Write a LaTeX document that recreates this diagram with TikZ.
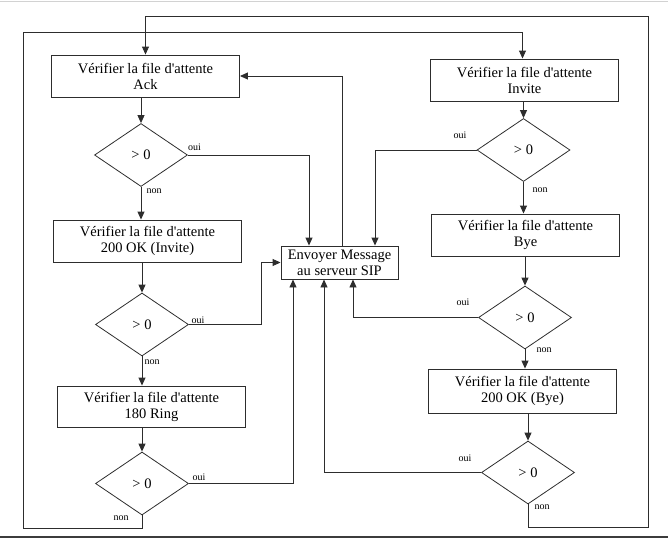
\documentclass[tikz,border=0pt]{standalone}
\usepackage{fontspec}
\setmainfont[Ligatures=TeXOff]{Liberation Serif}
\usetikzlibrary{
  arrows.meta,
  shapes.geometric
}
\definecolor{trait}{RGB}{45,45,45}
\definecolor{cadre}{RGB}{60,60,60}

\begin{document}
\begin{tikzpicture}[x=1pt, y=-1pt,
    every node/.style={font=\fontsize{14.5}{16}\selectfont},
    boite/.style={draw=trait, line width=0.9pt, minimum width=188pt, minimum height=42pt, inner sep=0pt, align=center},
    test/.style={draw=trait, line width=0.8pt, diamond, minimum width=93pt, minimum height=63pt, inner sep=0pt},
    lien/.style={draw=trait, line width=0.9pt, -{Triangle[length=8pt, width=7pt]}},
    rep/.style={font=\fontsize{10}{12}\selectfont, inner sep=0pt}]
            \useasboundingbox (0,0) rectangle (668,547);
            % Page edges
            \draw[gray!35, line width=1pt] (0,1) -- (668,1);
            \draw[cadre, line width=1.3pt] (0,537) -- (668,537);

            % Left column
            \node[boite] (ack) at (145.5,76) {V\'erifier la file d'attente\\Ack};
            \node[test] (dAck) at (141,155) {> 0};
            \node[boite] (invOK) at (147.5,241) {V\'erifier la file d'attente\\200 OK (Invite)};
            \node[test] (dInvOK) at (142,324.5) {> 0};
            \node[boite, minimum height=41pt] (ring) at (151.5,406.5) {V\'erifier la file d'attente\\180 Ring};
            \node[test] (dRing) at (142,483.5) {> 0};

            % Right column
            \node[boite] (invite) at (524.5,80) {V\'erifier la file d'attente\\Invite};
            \node[test] (dInvite) at (523.5,150) {> 0};
            \node[boite] (bye) at (525.5,235) {V\'erifier la file d'attente\\Bye};
            \node[test] (dBye) at (525,317.5) {> 0};
            \node[boite, minimum height=44pt] (byeOK) at (522.5,391) {V\'erifier la file d'attente\\200 OK (Bye)};
            \node[test] (dByeOK) at (528,472.5) {> 0};

            % Server box
            \node[boite, minimum width=117pt, minimum height=33pt] (envoi) at (339.5,262.5) {Envoyer Message\\au serveur SIP};

            % oui / non
            \node[rep] (oAck) at (194.5,147) {oui};
            \node[rep] (nAck) at (154,191) {non};
            \node[rep] (oInvOK) at (198,320) {oui};
            \node[rep] (nInvOK) at (152,362) {non};
            \node[rep] (oRing) at (199,477) {oui};
            \node[rep] (nRing) at (121,518) {non};
            \node[rep] (oInvite) at (460,135) {oui};
            \node[rep] (nInvite) at (540,190) {non};
            \node[rep] (oBye) at (463,302) {oui};
            \node[rep] (nBye) at (544,350) {non};
            \node[rep] (oByeOK) at (465,458) {oui};
            \node[rep] (nByeOK) at (542,507) {non};

            % Loop corners
            \coordinate (basG) at (23,528);
            \coordinate (hautG) at (23,32);
            \coordinate (basD) at (648,527);
            \coordinate (hautD) at (648,16);

            % Column arrows
            \draw[lien] (ack.south -| dAck.north) -- (dAck.north);
            \draw[lien] (dAck.south) -- (dAck.south |- invOK.north);
            \draw[lien] (invOK.south -| dInvOK.north) -- (dInvOK.north);
            \draw[lien] (dInvOK.south) -- (dInvOK.south |- ring.north);
            \draw[lien] (ring.south -| dRing.north) -- (dRing.north);
            \draw[lien] (invite.south -| dInvite.north) -- (dInvite.north);
            \draw[lien] (dInvite.south) -- (dInvite.south |- bye.north);
            \draw[lien] (bye.south -| dBye.north) -- (dBye.north);
            \draw[lien] (dBye.south) -- (dBye.south |- byeOK.north);
            \draw[lien] (byeOK.south -| dByeOK.north) -- (dByeOK.north);

            % oui -> server
            \draw[lien] (dAck.east) -| ([xshift=-30.5pt]envoi.north);
            \draw[lien] (dInvite.west) -| ([xshift=35.5pt]envoi.north);
            \draw[lien] (dInvOK.east) -- ++(73,0) |- (envoi.west);
            \draw[lien] (dRing.east) -| ([xshift=-46.5pt]envoi.south);
            \draw[lien] (dByeOK.west) -| ([xshift=-15.5pt]envoi.south);
            \draw[lien] (dBye.west) -| ([xshift=13.5pt]envoi.south);
            \draw[lien] ([xshift=2.5pt]envoi.north) |- (ack.east);

            % non -> next queue
            \draw[lien] (dRing.south) |- (basG) -- (hautG) -| ([xshift=-2pt]invite.north);
            \draw[lien] (dByeOK.south) |- (basD) -- (hautD) -| (ack.north);
        \end{tikzpicture}
\end{document}
